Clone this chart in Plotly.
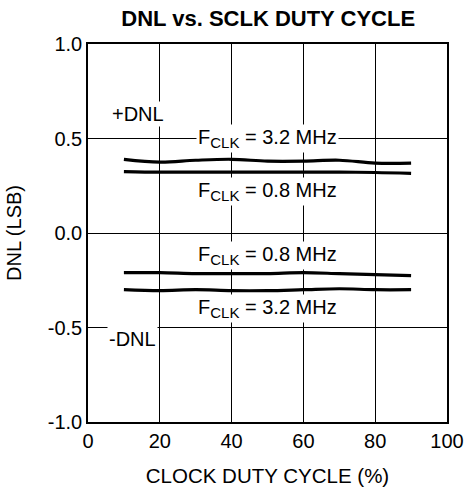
import plotly.graph_objects as go

duty = [10, 20, 30, 40, 50, 60, 70, 80, 90]
pos_32 = [0.39, 0.375, 0.385, 0.39, 0.38, 0.38, 0.385, 0.37, 0.37]
pos_08 = [0.325, 0.322, 0.322, 0.322, 0.322, 0.322, 0.322, 0.32, 0.315]
neg_08 = [-0.21, -0.21, -0.215, -0.215, -0.215, -0.21, -0.215, -0.22, -0.225]
neg_32 = [-0.30, -0.305, -0.30, -0.305, -0.305, -0.30, -0.295, -0.30, -0.30]

SUB = '<sub><span style="font-size:15px">CLK</span></sub>'
labels = [
    ("+DNL", 13.8, 0.63),
    ("F" + SUB + " = 3.2 MHz", 50, 0.50),
    ("F" + SUB + " = 0.8 MHz", 50, 0.22),
    ("F" + SUB + " = 0.8 MHz", 50, -0.12),
    ("F" + SUB + " = 3.2 MHz", 50, -0.40),
    ("-DNL", 12.5, -0.56),
]

FONT = "Liberation Sans, Arial"

fig = go.Figure()
for ys in [pos_32, pos_08, neg_08, neg_32]:
    fig.add_trace(go.Scatter(x=duty, y=ys, mode="lines",
                             line=dict(color="black", width=3.2, shape="spline"),
                             showlegend=False, hoverinfo="skip"))

for txt, x, y in labels:
    fig.add_annotation(x=x, y=y, text=txt, showarrow=False, bgcolor="white",
                       font=dict(size=20, color="black", family=FONT),
                       borderpad=1)

fig.update_layout(
    width=464, height=487,
    margin=dict(l=88, r=17, t=44, b=65),
    plot_bgcolor="white", paper_bgcolor="white",
    font=dict(family=FONT, size=20, color="black"),
    title=dict(text="<b>DNL vs. SCLK DUTY CYCLE</b>", x=0.578, xanchor="center",
               y=1 - 18 / 487, yanchor="middle", font=dict(size=22)),
)
fig.update_xaxes(range=[0, 100], tickvals=[0, 20, 40, 60, 80, 100],
                 showgrid=True, gridcolor="black", gridwidth=1,
                 showline=True, linecolor="black", linewidth=1.5, mirror=True,
                 ticks="", zeroline=False, automargin=False,
                 ticklabeloverflow="allow",
                 tickfont=dict(size=20),
                 title=dict(text="CLOCK DUTY CYCLE (%)", standoff=18,
                            font=dict(size=20.5)))
fig.update_yaxes(range=[-1, 1], tickvals=[-1, -0.5, 0, 0.5, 1],
                 ticktext=["-1.0", "-0.5", "0.0", "0.5", "1.0"],
                 showgrid=True, gridcolor="black", gridwidth=1,
                 showline=True, linecolor="black", linewidth=1.5, mirror=True,
                 ticks="", zeroline=False, automargin=False,
                 tickfont=dict(size=20),
                 title=dict(text="DNL (LSB)", standoff=21, font=dict(size=20)))

fig.write_html("out.html",
               config={"displayModeBar": False},
               post_script="document.body.style.margin='0';document.body.style.overflow='hidden';")
